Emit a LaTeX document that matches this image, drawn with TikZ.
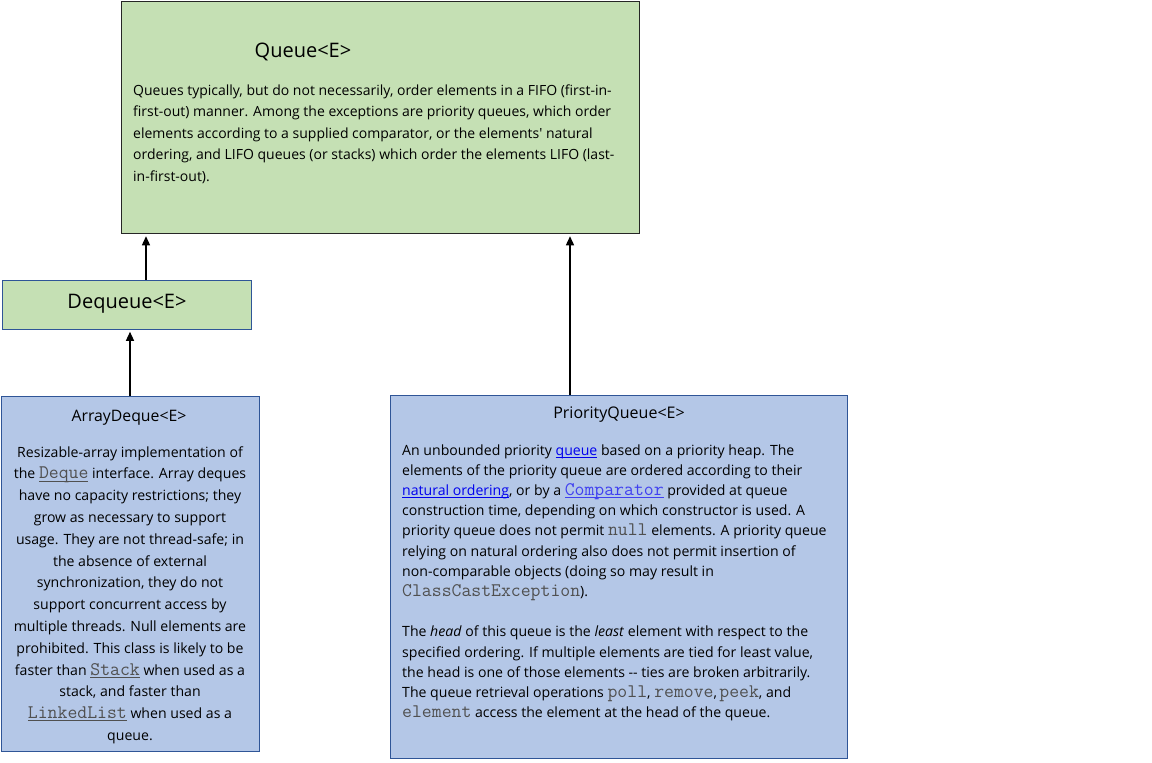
\documentclass[tikz,border=0pt]{standalone}
\usepackage{fontspec}
\setmainfont{Open Sans}
\usetikzlibrary{arrows.meta}
\definecolor{gfill}{HTML}{C5E0B4}
\definecolor{bfill}{HTML}{B4C7E7}
\definecolor{bdraw}{HTML}{2F5597}
\definecolor{qdraw}{HTML}{262626}
\definecolor{codeg}{HTML}{505050}
\definecolor{linkb}{HTML}{0000EE}
\definecolor{linkc}{HTML}{4040F0}
\newcommand\monof{\ttfamily\fontsize{19.2}{19.2}\selectfont}
\newcommand\ulx[1]{\leavevmode\setbox0\hbox{#1}\rlap{\rule[-2.4pt]{\wd0}{0.7pt}}\box0}
\newcommand\code[1]{\leavevmode{\monof\color{codeg}#1}}
\newcommand\ucode[1]{\leavevmode{\monof\color{codeg}\ulx{#1}}}
\newcommand\lnk[1]{\leavevmode{\color{linkb}\ulx{#1}}}
\newcommand\lcode[1]{\leavevmode{\monof\color{linkc}\ulx{#1}}}
\tikzset{
  box/.style={draw, rectangle, inner sep=0pt, anchor=north west},
  qbox/.style={box, fill=gfill, draw=qdraw, line width=1.5pt},
  gbox/.style={box, fill=gfill, draw=bdraw, line width=1.3pt},
  bbox/.style={box, fill=bfill, draw=bdraw, line width=1.3pt},
  txt/.style={inner sep=0pt, text=black},
  arr/.style={-{Triangle[width=8pt,length=9pt]}, line width=1.3pt, black, shorten >=2pt},
}
\begin{document}
\begin{tikzpicture}[x=1pt,y=-1pt]
\useasboundingbox (0,0) rectangle (1152,763);
% boxes
\node[qbox, minimum width=518pt, minimum height=232pt] (q) at (120.75,0.75) {};
\node[gbox, minimum width=249pt, minimum height=49pt] (dq) at (1.5,279.5) {};
\node[bbox, minimum width=258pt, minimum height=355pt] (ad) at (1,396) {};
\node[bbox, minimum width=457pt, minimum height=363pt] (pq) at (389.5,394.5) {};
% titles
\node[txt, anchor=base] (qtitle) at (303,57) {\fontsize{20}{24}\selectfont Queue<E>};
\node[txt, anchor=base] (dqtitle) at (127,308) {\fontsize{20}{24}\selectfont Dequeue<E>};
\node[txt, anchor=base] (adtitle) at (129,421) {\fontsize{15.8}{19}\selectfont ArrayDeque<E>};
\node[txt, anchor=base] (pqtitle) at (619,418) {\fontsize{16}{19}\selectfont PriorityQueue<E>};
% bodies
\node[txt, anchor=base west] (qbody) at (133,95) {\parbox[t]{700pt}{\fontsize{14}{21.5}\selectfont\raggedright
Queues typically, but do not necessarily, order elements in a FIFO (first-in-\\
first-out) manner. Among the exceptions are priority queues, which order\\
elements according to a supplied comparator, or the elements\textquotesingle\ natural\\
ordering, and LIFO queues (or stacks) which order the elements LIFO (last-\\
in-first-out).}};
\node[txt, anchor=base] (adbody) at (130,457) {\parbox[t]{400pt}{\fontsize{14.1}{21.8}\selectfont\centering
Resizable-array implementation of\\
the \ucode{Deque} interface. Array deques\\
have no capacity restrictions; they\\
grow as necessary to support\\
usage. They are not thread-safe; in\\
the absence of external\\
synchronization, they do not\\
support concurrent access by\\
multiple threads. Null elements are\\
prohibited. This class is likely to be\\
faster than \ucode{Stack} when used as a\\
stack, and faster than\\
\ucode{LinkedList} when used as a\\
queue.}};
\node[txt, anchor=base west] (pqbody) at (402,455) {\parbox[t]{700pt}{\fontsize{14.1}{20.2}\selectfont\raggedright
An unbounded priority \lnk{queue} based on a priority heap. The\\
elements of the priority queue are ordered according to their\\
\lnk{natural ordering}, or by a \lcode{Comparator} provided at queue\\
construction time, depending on which constructor is used. A\\
priority queue does not permit \code{null} elements. A priority queue\\
relying on natural ordering also does not permit insertion of\\
non-comparable objects (doing so may result in\\
\code{ClassCastException}).\\
\mbox{}\\
The \emph{head} of this queue is the \emph{least} element with respect to the\\
specified ordering. If multiple elements are tied for least value,\\
the head is one of those elements -\kern0pt- ties are broken arbitrarily.\\
The queue retrieval operations \code{poll}, \code{remove},\,\code{peek}, and\\
\code{element} access the element at the head of the queue.}};
% connectors
\coordinate (a1) at ([xshift=144.5pt]dq.north west);
\draw[arr] (a1) -- (a1 |- q.south);
\coordinate (a2) at ([xshift=129pt]ad.north west);
\draw[arr] (a2) -- (a2 |- dq.south);
\coordinate (a3) at ([xshift=180.5pt]pq.north west);
\draw[arr] (a3) -- (a3 |- q.south);
\end{tikzpicture}
\end{document}
